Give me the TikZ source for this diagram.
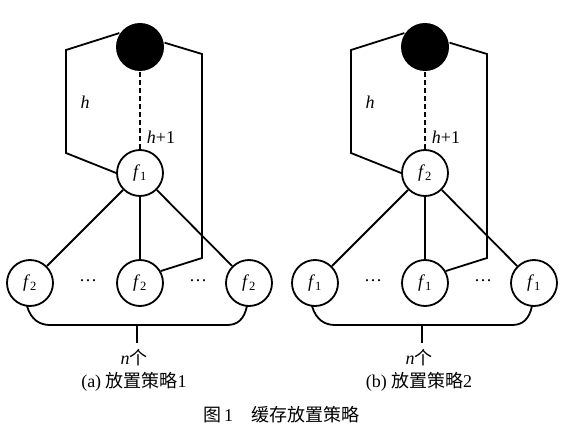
\documentclass[tikz,border=0pt]{standalone}
\usepackage{fontspec}
\setmainfont{Liberation Serif}
\newfontfamily\cjk{Noto Sans CJK SC}
\begin{document}
\begin{tikzpicture}[x=1pt,y=-1pt,line width=1.8pt,
  every node/.style={font=\fontsize{18}{21}\selectfont},
  fnode/.style={circle,draw,minimum size=46pt,inner sep=0pt},
  topnode/.style={circle,fill=black,minimum size=48pt,inner sep=0pt},
  dashline/.style={dashed,dash pattern=on 5pt off 3pt}]
\useasboundingbox (0,0) rectangle (562,436);
\foreach \p/\dx/\ta/\tb/\cap in {a/0/1/2/{(a) {\cjk 放置策略}1}, b/285/2/1/{(b) {\cjk 放置策略}2}}{
  \begin{scope}[xshift=\dx pt]
    \node[topnode] (\p top) at (140,47) {};
    \node[fnode] (\p f) at (140,173) {\textit{f}\textsubscript{\ta}};
    \node[fnode] (\p l) at (30,283) {\textit{f}\textsubscript{\tb}};
    \node[fnode] (\p m) at (140,283) {\textit{f}\textsubscript{\tb}};
    \node[fnode] (\p r) at (249,283) {\textit{f}\textsubscript{\tb}};
    \node (\p d1) at (88,281) {\dots};
    \node (\p d2) at (198,281) {\dots};
    \node (\p h) at (85,102) {\textit{h}};
    \node (\p h1) at (161,137) {\textit{h}+1};
    \draw[dashline] (\p top) -- (\p f);
    \draw (\p top.146) -- (66,50) -- (66,153) -- (\p f.west);
    \draw (\p top.10) -- (202,54) -- (202,258) -- (\p m.30);
    \draw (\p f) -- (\p l);
    \draw (\p f) -- (\p m);
    \draw (\p f) -- (\p r);
    \coordinate (\p bl) at (27,306);
    \coordinate (\p br) at (247,306);
    \coordinate (\p bc) at (137,325);
    \coordinate (\p be) at (137,343);
    \node (\p n) at (134,358) {\textit{n}{\cjk 个}};
    \node (\p cap) at (134,382) {\cap};
    \draw (\p bl) .. controls (31,320) and (40,325) .. (50,325) -- (227,325)
          .. controls (237,325) and (244,320) .. (\p br);
    \draw (\p bc) -- (\p be);
  \end{scope}
}
\node (fig) at (281,415) {{\cjk 图}\,1\quad{\cjk 缓存放置策略}};
\end{tikzpicture}
\end{document}
